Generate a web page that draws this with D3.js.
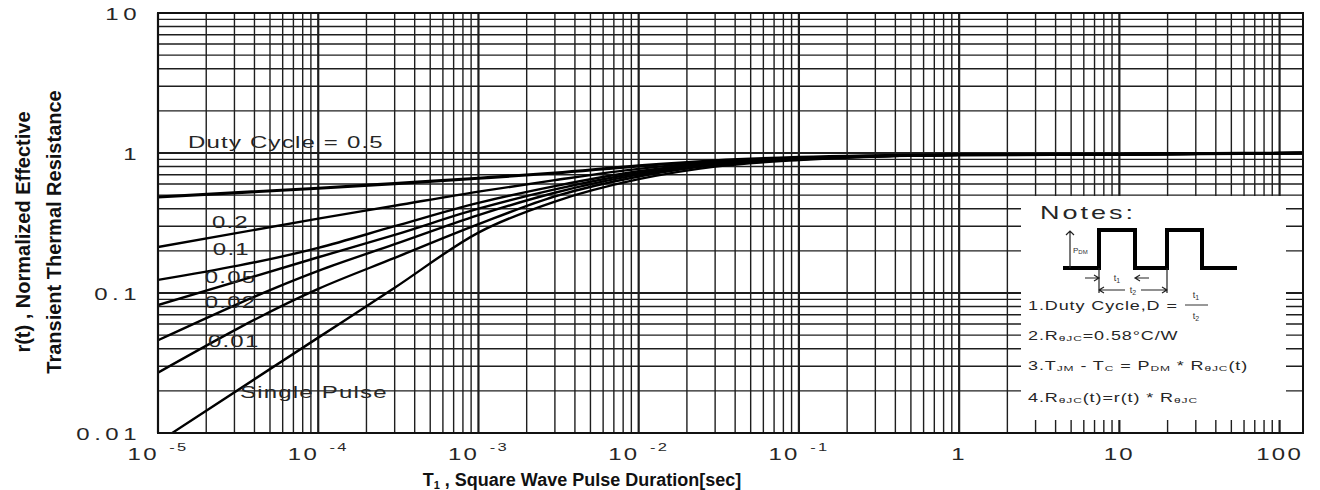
<!DOCTYPE html>
<html>
<head>
<meta charset="utf-8">
<script src="https://cdn.jsdelivr.net/npm/d3@7"></script>
<style>
  body { margin: 0; background: #fff; }
</style>
</head>
<body>
<div id="chart"></div>
<script>
const pulseTimes = [1e-5, 1e-4, 3e-4, 1e-3, 3e-3, 1e-2, 3e-2, 1e-1, 1, 10, 140];

// r(t) for each duty cycle
const duty05  = [0.485, 0.56, 0.605, 0.66, 0.72, 0.81, 0.88, 0.93, 0.97, 0.98, 1.0];
const duty02  = [0.213, 0.34, 0.42, 0.53, 0.64, 0.77, 0.86, 0.92, 0.97, 0.98, 1.0];
const duty01  = [0.124, 0.21, 0.30, 0.44, 0.58, 0.74, 0.85, 0.91, 0.97, 0.98, 1.0];
const duty005 = [0.082, 0.18, 0.26, 0.40, 0.55, 0.72, 0.84, 0.91, 0.97, 0.98, 1.0];
const duty002 = [0.046, 0.144, 0.223, 0.36, 0.52, 0.70, 0.83, 0.90, 0.97, 0.98, 1.0];
const duty001 = [0.027, 0.107, 0.178, 0.31, 0.49, 0.68, 0.82, 0.90, 0.97, 0.98, 1.0];
const single  = [0.0086, 0.048, 0.109, 0.27, 0.45, 0.65, 0.80, 0.89, 0.97, 0.98, 1.0];

const seriesNames = ["Duty Cycle = 0.5", "0.2", "0.1", "0.05", "0.02", "0.01", "Single Pulse"];
const seriesValues = [duty05, duty02, duty01, duty005, duty002, duty001, single];
// where each curve label sits, in data units (t, r)
const labelT = [1.54e-5, 2.17e-5, 2.2e-5, 1.96e-5, 1.96e-5, 2.05e-5, 3.25e-5];
const labelR = [1.18, 0.32, 0.203, 0.128, 0.086, 0.0447, 0.0196];

// tick labels
const xTickValues = [1e-5, 1e-4, 1e-3, 1e-2, 1e-1, 1, 10, 100];
const xTickBase   = ["10", "10", "10", "10", "10", "1", "10", "100"];
const xTickExp    = ["-5", "-4", "-3", "-2", "-1", "", "", ""];
const yTickValues = [0.01, 0.1, 1, 10];
const yTickLabels = ["0.01", "0.1", "1", "10"];

const W = 1320, H = 490;
const margin = {top: 13, right: 17, bottom: 57, left: 158};
const width = W - margin.left - margin.right,
      height = H - margin.top - margin.bottom;

const svg = d3.select("#chart")
  .append("svg")
    .attr("width", W)
    .attr("height", H)
    .style("font-family", "'Liberation Sans', Arial, sans-serif");

const g = svg.append("g")
  .attr("transform", "translate(" + margin.left + "," + margin.top + ")");

const x = d3.scaleLog().domain([1e-5, 140]).range([0, width]);
const y = d3.scaleLog().domain([0.01, 10]).range([height, 0]);

// the scanned text looks stretched sideways
const SX = 1.5;
function wideText(parent, px, py, str, size, spacing, anchor) {
  return parent.append("g")
      .attr("transform", "translate(" + px + "," + py + ")")
    .append("text")
      .attr("transform", "scale(" + SX + ",1)")
      .attr("text-anchor", anchor || "start")
      .attr("dominant-baseline", "central")
      .style("font-size", size + "px")
      .style("letter-spacing", spacing + "px")
      .style("fill", "#262626")
      .text(str);
}

// grid
const isMajor = v => Math.abs(Math.log10(v) - Math.round(Math.log10(v))) < 1e-6;

g.append("g")
  .selectAll("line")
  .data(x.ticks())
  .join("line")
    .attr("x1", d => x(d)).attr("x2", d => x(d))
    .attr("y1", 0).attr("y2", height)
    .attr("stroke", "#1e1e1e")
    .attr("stroke-width", d => isMajor(d) ? 2.2 : 1.4);

g.append("g")
  .selectAll("line")
  .data(y.ticks())
  .join("line")
    .attr("y1", d => y(d)).attr("y2", d => y(d))
    .attr("x1", 0).attr("x2", width)
    .attr("stroke", "#1e1e1e")
    .attr("stroke-width", d => isMajor(d) ? 2.2 : 1.4);

// clip for the curves
svg.append("defs").append("clipPath").attr("id", "plotClip")
  .append("rect").attr("width", width).attr("height", height);

const line = d3.line()
  .x((d, i) => x(pulseTimes[i]))
  .y(d => y(d))
  .curve(d3.curveMonotoneX);

g.append("g")
  .attr("clip-path", "url(#plotClip)")
  .selectAll("path")
  .data(seriesValues)
  .join("path")
    .attr("fill", "none")
    .attr("stroke", "#000")
    .attr("stroke-width", (d, i) => i === 0 ? 3.2 : 2.4)
    .attr("d", line);

// curve labels
seriesNames.forEach((name, i) => {
  wideText(g, x(labelT[i]), y(labelR[i]), name, 16, 0.8);
});

// border
g.append("rect")
  .attr("width", width).attr("height", height)
  .attr("fill", "none")
  .attr("stroke", "#111")
  .attr("stroke-width", 2);

// Notes box (white panel over the grid)
const box = {x: width - 282, y: 183, w: 265, h: 224};
const notes = g.append("g").attr("transform", "translate(" + box.x + "," + box.y + ")");
notes.append("rect")
  .attr("width", box.w).attr("height", box.h)
  .attr("fill", "#fff");

wideText(notes, 19, 17, "Notes:", 18, 2);

// pulse waveform
const lowY = 72, highY = 34;
const edges = [42, 78, 114, 146, 181, 216];
notes.append("path")
  .attr("fill", "none")
  .attr("stroke", "#000")
  .attr("stroke-width", 4)
  .attr("d", "M" + edges[0] + "," + lowY +
             "H" + edges[1] + "V" + highY + "H" + edges[2] + "V" + lowY +
             "H" + edges[3] + "V" + highY + "H" + edges[4] + "V" + lowY +
             "H" + edges[5]);

const thin = sel => sel.attr("stroke", "#222").attr("stroke-width", 1.2).attr("fill", "none");
// PDM arrow
notes.append("path").call(thin)
  .attr("d", "M49," + (highY + 1) + "V" + lowY + "M45," + (highY + 5) + "L49," + (highY + 1) + "L53," + (highY + 5));
notes.append("text")
  .attr("x", 52).attr("y", 54)
  .attr("dominant-baseline", "central")
  .style("font-size", "8px").style("fill", "#333")
  .text("P").append("tspan").attr("dy", 2).style("font-size", "6px").text("DM");

// t1 arrows
const t1y = 82;
notes.append("path").call(thin)
  .attr("d", "M64," + t1y + "H" + edges[1] + "M" + (edges[1] - 5) + "," + (t1y - 3) + "L" + edges[1] + "," + t1y + "L" + (edges[1] - 5) + "," + (t1y + 3) +
             "M128," + t1y + "H" + edges[2] + "M" + (edges[2] + 5) + "," + (t1y - 3) + "L" + edges[2] + "," + t1y + "L" + (edges[2] + 5) + "," + (t1y + 3));
notes.append("text")
  .attr("x", 96).attr("y", t1y).attr("text-anchor", "middle").attr("dominant-baseline", "central")
  .style("font-size", "9px").style("fill", "#333")
  .text("t").append("tspan").attr("dy", 2).style("font-size", "7px").text("1");

// t2 dimension
const t2y = 94;
notes.append("path").call(thin)
  .attr("d", "M" + edges[1] + "," + lowY + "V" + (t2y + 3) + "M" + edges[3] + "," + lowY + "V" + (t2y + 3) +
             "M" + edges[1] + "," + t2y + "H" + edges[3] +
             "M" + (edges[1] + 5) + "," + (t2y - 3) + "L" + edges[1] + "," + t2y + "L" + (edges[1] + 5) + "," + (t2y + 3) +
             "M" + (edges[3] - 5) + "," + (t2y - 3) + "L" + edges[3] + "," + t2y + "L" + (edges[3] - 5) + "," + (t2y + 3));
notes.append("rect").attr("x", 104).attr("y", t2y - 5).attr("width", 16).attr("height", 10).attr("fill", "#fff");
notes.append("text")
  .attr("x", 112).attr("y", t2y).attr("text-anchor", "middle").attr("dominant-baseline", "central")
  .style("font-size", "9px").style("fill", "#333")
  .text("t").append("tspan").attr("dy", 2).style("font-size", "7px").text("2");

// note lines with subscripts: [text, isSub]
function noteLine(py, parts) {
  const t = wideText(notes, 7, py, "", 12, 0.6);
  let shifted = false;
  parts.forEach(p => {
    const ts = t.append("tspan").text(p[0]);
    if (p[1]) {
      ts.style("font-size", "8px").attr("dy", shifted ? 0 : 3);
      shifted = true;
    } else {
      ts.attr("dy", shifted ? -3 : 0);
      shifted = false;
    }
  });
}
noteLine(109, [["1.Duty Cycle,D = ", 0]]);
// fraction t1 / t2
notes.append("line").attr("x1", 164).attr("x2", 187).attr("y1", 109).attr("y2", 109)
  .attr("stroke", "#333").attr("stroke-width", 1);
notes.append("text").attr("x", 175).attr("y", 99).attr("text-anchor", "middle").attr("dominant-baseline", "central")
  .style("font-size", "9px").style("fill", "#333")
  .text("t").append("tspan").attr("dy", 2).style("font-size", "7px").text("1");
notes.append("text").attr("x", 175).attr("y", 120).attr("text-anchor", "middle").attr("dominant-baseline", "central")
  .style("font-size", "9px").style("fill", "#333")
  .text("t").append("tspan").attr("dy", 2).style("font-size", "7px").text("2");

noteLine(139, [["2.R", 0], ["θJC", 1], ["=0.58°C/W", 0]]);
noteLine(169, [["3.T", 0], ["JM", 1], [" - T", 0], ["C", 1], [" = P", 0], ["DM", 1], [" * R", 0], ["θJC", 1], ["(t)", 0]]);
noteLine(201, [["4.R", 0], ["θJC", 1], ["(t)=r(t) * R", 0], ["θJC", 1]]);

// y tick labels
yTickValues.forEach((v, i) => {
  wideText(g, -17, y(v) + 2, yTickLabels[i], 16, 3, "end");
});

// x tick labels with exponents
xTickValues.forEach((v, i) => {
  const t = g.append("g")
      .attr("transform", "translate(" + x(v) + "," + (height + 22) + ")")
    .append("text")
      .attr("transform", "scale(" + SX + ",1)")
      .attr("text-anchor", "middle")
      .attr("dominant-baseline", "central")
      .style("font-size", "16px")
      .style("letter-spacing", "1.5px")
      .style("fill", "#262626")
      .text(xTickBase[i]);
  if (xTickExp[i]) {
    t.append("tspan")
      .attr("dx", 7).attr("dy", -8)
      .style("font-size", "11px")
      .text(xTickExp[i]);
  }
});

// axis titles
const xTitle = svg.append("text")
  .attr("x", 582).attr("y", 486)
  .attr("text-anchor", "middle")
  .style("font-size", "18px")
  .style("font-weight", "bold")
  .style("fill", "#111")
  .text("T");
xTitle.append("tspan").attr("dy", 3).style("font-size", "11px").text("1");
xTitle.append("tspan").attr("dy", -3).text(" , Square Wave Pulse Duration[sec]");

const yTitle = svg.append("g")
  .attr("transform", "translate(0,232) rotate(-90)");
yTitle.append("text")
  .attr("x", 0).attr("y", 30)
  .attr("text-anchor", "middle")
  .style("font-size", "20px").style("font-weight", "bold").style("fill", "#111")
  .text("r(t) , Normalized Effective");
yTitle.append("text")
  .attr("x", 0).attr("y", 61)
  .attr("text-anchor", "middle")
  .style("font-size", "20px").style("font-weight", "bold").style("fill", "#111")
  .text("Transient Thermal Resistance");
</script>
</body>
</html>
